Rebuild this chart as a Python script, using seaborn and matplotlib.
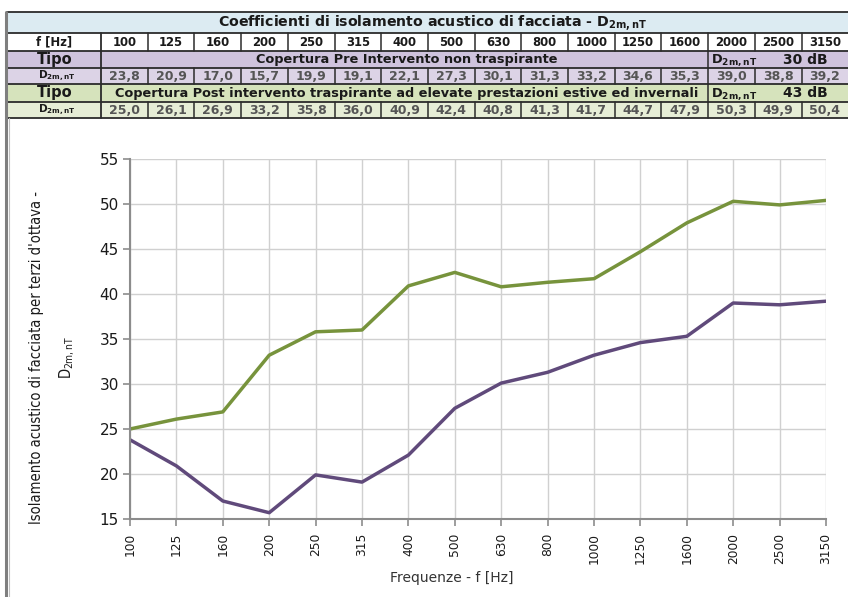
import numpy as np
import pandas as pd
import matplotlib
matplotlib.use("Agg")
import matplotlib.pyplot as plt
import seaborn as sns
from matplotlib.patches import Rectangle

# ---------------- data ----------------
freqs = ["100", "125", "160", "200", "250", "315", "400", "500", "630", "800",
         "1000", "1250", "1600", "2000", "2500", "3150"]
pre_vals = [23.8, 20.9, 17.0, 15.7, 19.9, 19.1, 22.1, 27.3, 30.1, 31.3,
            33.2, 34.6, 35.3, 39.0, 38.8, 39.2]
post_vals = [25.0, 26.1, 26.9, 33.2, 35.8, 36.0, 40.9, 42.4, 40.8, 41.3,
             41.7, 44.7, 47.9, 50.3, 49.9, 50.4]
pre_label = "Copertura Pre Intervento non traspirante"
post_label = "Copertura Post intervento traspirante ad elevate prestazioni estive ed invernali"
pre_index = "30 dB"
post_index = "43 dB"
table_title = "Coefficienti di isolamento acustico di facciata - D$_{2m,nT}$"
d_label = "D$_{2m,nT}$"
y_ticks = [15, 20, 25, 30, 35, 40, 45, 50, 55]
x_title = "Frequenze - f [Hz]"
y_title = "Isolamento acustico di facciata per terzi d'ottava -\nD$_{2m,nT}$"

sns.set_theme(style="white")
plt.rcParams["font.family"] = ["DejaVu Sans"]
plt.rcParams["mathtext.default"] = "regular"

W, H = 848, 597
fig = plt.figure(figsize=(W / 100, H / 100), dpi=100)
fig.patch.set_facecolor("white")

# background pixel-coordinate axes for table & frame
bg = fig.add_axes([0, 0, 1, 1], zorder=0)
bg.set_xlim(0, W)
bg.set_ylim(H, 0)
bg.axis("off")

PURPLE = "#604A7B"
GREEN = "#77933C"

# ---------------- table ----------------
rows_y = [12, 33, 51, 68, 84, 102, 118]
x0 = 6
c0 = 101
cw = 46.7
ncol = len(freqs)
col_edges = [c0 + i * cw for i in range(ncol + 1)]
x_right = col_edges[-1] + 4
row_colors = ["#DCEBF2", "#FFFFFF", "#CFC3DD", "#DCD3E6", "#D6E3BC", "#E6EDD6"]
for i, col in enumerate(row_colors):
    bg.add_patch(Rectangle((x0, rows_y[i]), x_right - x0, rows_y[i + 1] - rows_y[i],
                           facecolor=col, edgecolor="none", zorder=1))

lc = "#2b2b2b"
for yy in rows_y:
    bg.plot([x0, x_right], [yy, yy], color=lc, lw=1.3, zorder=3, solid_capstyle="butt")
bg.plot([x0, x0], [rows_y[0], H], color="#7f7f7f", lw=2.2, zorder=3)
bg.plot([x0 + 2.5, x0 + 2.5], [rows_y[-1], H], color="#bfbfbf", lw=0.8, zorder=3)
bg.plot([c0, c0], [rows_y[1], rows_y[-1]], color=lc, lw=1.3, zorder=3)
for j, xe in enumerate(col_edges[1:-1], start=1):
    for (ya, yb) in [(rows_y[1], rows_y[2]), (rows_y[3], rows_y[4]), (rows_y[5], rows_y[6])]:
        bg.plot([xe, xe], [ya, yb], color=lc, lw=1.1, zorder=3)
    if j == 13:
        for (ya, yb) in [(rows_y[2], rows_y[3]), (rows_y[4], rows_y[5])]:
            bg.plot([xe, xe], [ya, yb], color=lc, lw=1.1, zorder=3)

def cy(i):
    return (rows_y[i] + rows_y[i + 1]) / 2

tfs = 8.4
bg.text((x0 + x_right) / 2 + 3, cy(0) + 0.5, table_title, ha="center", va="center",
        fontsize=10.2, fontweight="bold", color="#1a1a1a", zorder=4)
bg.text((x0 + c0) / 2 + 1, cy(1), "f [Hz]", ha="center", va="center", fontsize=tfs,
        fontweight="bold", color="#1a1a1a", zorder=4)
for j, f in enumerate(freqs):
    xc = (col_edges[j] + col_edges[j + 1]) / 2
    bg.text(xc, cy(1), f, ha="center", va="center", fontsize=tfs, fontweight="bold",
            color="#1a1a1a", zorder=4)
    bg.text(xc, cy(3), f"{pre_vals[j]:.1f}".replace(".", ","), ha="center", va="center",
            fontsize=9, fontweight="bold", color="#555555", zorder=4)
    bg.text(xc, cy(5), f"{post_vals[j]:.1f}".replace(".", ","), ha="center", va="center",
            fontsize=9, fontweight="bold", color="#555555", zorder=4)

for r in (2, 4):
    bg.text((x0 + c0) / 2 + 1, cy(r), "Tipo", ha="center", va="center", fontsize=10.5,
            fontweight="bold", color="#1a1a1a", zorder=4)
for r in (3, 5):
    bg.text((x0 + c0) / 2 + 3, cy(r), d_label, ha="center", va="center", fontsize=7.5,
            fontweight="bold", color="#1a1a1a", zorder=4)

for r, lab, idx in [(2, pre_label, pre_index), (4, post_label, post_index)]:
    bg.text((col_edges[0] + col_edges[13]) / 2 + 2, cy(r), lab, ha="center", va="center",
            fontsize=9.3, fontweight="bold", color="#1a1a1a", zorder=4)
    bg.text(col_edges[13] + 3, cy(r) + 1, d_label, ha="left", va="center",
            fontsize=9.3, fontweight="bold", color="#1a1a1a", zorder=4)
    bg.text(col_edges[15] + 26, cy(r), idx, ha="right", va="center",
            fontsize=10, fontweight="bold", color="#1a1a1a", zorder=4)

# ---------------- chart ----------------
ax_l, ax_r, ax_t, ax_b = 130, 826, 159, 519
ax = fig.add_axes([ax_l / W, 1 - ax_b / H, (ax_r - ax_l) / W, (ax_b - ax_t) / H], zorder=2)
ax.patch.set_alpha(0)

pos = np.arange(len(freqs))
df = pd.DataFrame({
    "pos": np.concatenate([pos, pos]),
    "D": pre_vals + post_vals,
    "tipo": [pre_label] * len(freqs) + [post_label] * len(freqs),
})
sns.lineplot(data=df, x="pos", y="D", hue="tipo", hue_order=[pre_label, post_label],
             palette=[PURPLE, GREEN], linewidth=2.5, legend=False, ax=ax, sort=False)

ax.set_xlim(0, len(freqs) - 1)
ax.set_ylim(15, 55)
ax.set_xticks(pos)
ax.set_xticklabels(freqs, rotation=90, fontsize=8.8, color="#1a1a1a")
ax.set_yticks(y_ticks)
ax.set_yticklabels([str(v) for v in y_ticks], fontsize=11, color="#1a1a1a")
ax.grid(True, color="#d0d0d0", lw=1.0)
ax.set_axisbelow(True)
for s in ("top", "right"):
    ax.spines[s].set_visible(False)
for s in ("left", "bottom"):
    ax.spines[s].set_color("#8c8c8c")
    ax.spines[s].set_linewidth(1.5)
ax.tick_params(axis="both", which="major", direction="out", length=5, width=1.2,
               color="#8c8c8c", left=True, bottom=True, pad=3)
ax.tick_params(axis="x", pad=5)
ax.set_xlabel("")
ax.set_ylabel("")

bg.text(452, 578, x_title, ha="center", va="center", fontsize=10, color="#333333")
bg.text(53, 357, y_title, ha="center", va="center", rotation=90, fontsize=10.5,
        color="#1a1a1a", fontstretch="condensed", linespacing=2.0)

fig.savefig("out.png", dpi=100, facecolor="white")
